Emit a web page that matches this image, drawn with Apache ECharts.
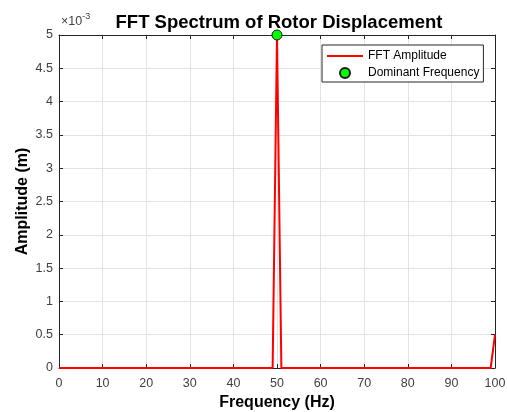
<!DOCTYPE html>
<html>
<head>
<meta charset="utf-8">
<script src="https://cdn.jsdelivr.net/npm/echarts@6/dist/echarts.min.js"></script>
<style>
html,body{margin:0;padding:0;background:#fff;}
#chart{width:507px;height:412px;}
</style>
</head>
<body>
<div id="chart"></div>
<script>
// Frequency bins (Hz)
const frequencies = [0,1,2,3,4,5,6,7,8,9,10,11,12,13,14,15,16,17,18,19,20,21,22,23,24,25,26,27,28,29,30,31,32,33,34,35,36,37,38,39,40,41,42,43,44,45,46,47,48,49,50,51,52,53,54,55,56,57,58,59,60,61,62,63,64,65,66,67,68,69,70,71,72,73,74,75,76,77,78,79,80,81,82,83,84,85,86,87,88,89,90,91,92,93,94,95,96,97,98,99,100];
// FFT amplitude (m)
const amplitudes = [0,0,0,0,0,0,0,0,0,0,0,0,0,0,0,0,0,0,0,0,0,0,0,0,0,0,0,0,0,0,0,0,0,0,0,0,0,0,0,0,0,0,0,0,0,0,0,0,0,0,0.005,0,0,0,0,0,0,0,0,0,0,0,0,0,0,0,0,0,0,0,0,0,0,0,0,0,0,0,0,0,0,0,0,0,0,0,0,0,0,0,0,0,0,0,0,0,0,0,0,0,0.0005];
// Dominant frequency point
const dominantFreq = [50];
const dominantAmp = [0.005];
// Tick labels
const xTicks = ['0','10','20','30','40','50','60','70','80','90','100'];
const yTicks = ['0','0.5','1','1.5','2','2.5','3','3.5','4','4.5','5'];

const lineData = frequencies.map((f, i) => [f, amplitudes[i]]);
const domData = dominantFreq.map((f, i) => [f, dominantAmp[i]]);

const chart = echarts.init(document.getElementById('chart'));
const axisColor = '#262626';
const labelColor = '#404040';
const font = 'Liberation Sans, Arial, sans-serif';

chart.setOption({
  animation: false,
  backgroundColor: '#fff',
  title: {
    text: 'FFT Spectrum of Rotor Displacement',
    left: 274, top: 8, textAlign: 'center',
    textStyle: {fontFamily: font, fontWeight: 'bold', fontSize: 18.5, color: '#000'}
  },
  grid: {left: 59, right: 12, top: 35, bottom: 44, containLabel: false, outerBoundsMode: 'none'},
  legend: {
    orient: 'vertical', left: 322, top: 45,
    backgroundColor: '#fff', borderColor: '#262626', borderWidth: 1,
    padding: [5, 4, 3, 4], itemGap: 5, itemWidth: 36, itemHeight: 10,
    textStyle: {fontFamily: font, fontSize: 12, color: '#000'},
    data: [{name: 'FFT Amplitude', itemStyle: {opacity: 0}}, {name: 'Dominant Frequency'}]
  },
  xAxis: [{
    type: 'value', min: 0, max: 100, interval: 10, position: 'bottom',
    name: 'Frequency (Hz)', nameLocation: 'middle', nameGap: 27, nameMoveOverlap: false,
    nameTextStyle: {fontFamily: font, fontWeight: 'bold', fontSize: 16, color: '#000'},
    axisLine: {show: true, onZero: false, lineStyle: {color: axisColor, width: 1}},
    axisTick: {show: true, inside: true, length: 4, lineStyle: {color: axisColor}},
    axisLabel: {fontFamily: font, fontSize: 12.5, color: labelColor, margin: 9,
      formatter: (v) => xTicks[Math.round(v / 10)]},
    splitLine: {show: true, lineStyle: {color: '#e3e3e3', width: 1}}
  }, {
    type: 'value', min: 0, max: 100, interval: 10, position: 'top',
    axisLine: {show: true, onZero: false, lineStyle: {color: axisColor, width: 1}},
    axisTick: {show: true, inside: true, length: 4, lineStyle: {color: axisColor}},
    axisLabel: {show: false}, splitLine: {show: false}
  }],
  yAxis: [{
    type: 'value', min: 0, max: 0.005, interval: 0.0005, position: 'left',
    name: 'Amplitude (m)', nameLocation: 'middle', nameGap: 28, nameRotate: 90, nameMoveOverlap: false,
    nameTextStyle: {fontFamily: font, fontWeight: 'bold', fontSize: 16, color: '#000'},
    axisLine: {show: true, onZero: false, lineStyle: {color: axisColor, width: 1}},
    axisTick: {show: true, inside: true, length: 4, lineStyle: {color: axisColor}},
    axisLabel: {fontFamily: font, fontSize: 12.5, color: labelColor, margin: 6,
      formatter: (v) => yTicks[Math.round(v / 0.0005)]},
    splitLine: {show: true, lineStyle: {color: '#e3e3e3', width: 1}}
  }, {
    type: 'value', min: 0, max: 0.005, interval: 0.0005, position: 'right',
    axisLine: {show: true, onZero: false, lineStyle: {color: axisColor, width: 1}},
    axisTick: {show: true, inside: true, length: 4, lineStyle: {color: axisColor}},
    axisLabel: {show: false}, splitLine: {show: false}
  }],
  graphic: [{
    type: 'text', left: 61, top: 12,
    style: {
      text: '{a|×10}{b|-3}',
      rich: {
        a: {fontFamily: font, fontSize: 12.5, fill: labelColor, verticalAlign: 'bottom', lineHeight: 16},
        b: {fontFamily: font, fontSize: 9, fill: labelColor, verticalAlign: 'top', lineHeight: 16, padding: [0, 0, 7, 0]}
      }
    }
  }],
  series: [{
    name: 'FFT Amplitude', type: 'line', xAxisIndex: 0, yAxisIndex: 0,
    data: lineData, symbol: 'none', clip: true,
    lineStyle: {color: '#ff0000', width: 2}, itemStyle: {color: '#ff0000'}, z: 2
  }, {
    name: 'Dominant Frequency', type: 'scatter', xAxisIndex: 0, yAxisIndex: 0,
    data: domData, symbol: 'circle', symbolSize: 10, clip: false,
    itemStyle: {color: '#00ff00', borderColor: '#1a1a1a', borderWidth: 1, opacity: 1}, z: 5
  }]
});
</script>
</body>
</html>
